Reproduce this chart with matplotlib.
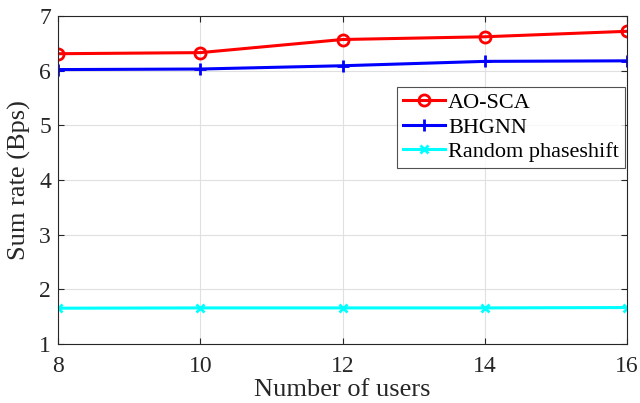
import matplotlib
matplotlib.use("Agg")
import matplotlib.pyplot as plt

users = [8, 10, 12, 14, 16]
ao_sca = [6.31, 6.33, 6.57, 6.62, 6.72]
bhgnn = [6.02, 6.03, 6.09, 6.17, 6.18]
random_ps = [1.655, 1.66, 1.66, 1.66, 1.667]

plt.rcParams['font.family'] = ['Liberation Serif', 'DejaVu Serif']
plt.rcParams['mathtext.fontset'] = 'stix'

fig = plt.figure(figsize=(6.4, 4.03), dpi=100)
ax = fig.add_axes([58/640, 1 - 344/403, (627-58)/640, (344-16)/403])

ax.plot(users, ao_sca, color='#ff0000', lw=2.2, marker='o', ms=8, mfc='none', mew=2.0, label='AO-SCA')
ax.plot(users, bhgnn, color='#0000ff', lw=2.2, marker='+', ms=9, mew=2.0, label='BHGNN')
ax.plot(users, random_ps, color='#00ffff', lw=2.2, marker='x', ms=6, mew=2.0, label='Random phaseshift')

ax.set_xlim(8, 16)
ax.set_ylim(1, 7)
ax.set_xticks(users)
ax.set_yticks(range(1, 8))
ax.grid(True, color='#e0e0e0', lw=0.8)
ax.set_axisbelow(True)
for s in ax.spines.values():
    s.set_color('#262626')
    s.set_linewidth(0.8)
ax.tick_params(direction='in', length=4, colors='#262626', labelsize=17, pad=5, top=True, right=True)
ax.tick_params(axis='x', pad=9)
ax.set_xlabel('Number of users', fontsize=19, color='#262626', labelpad=1)
ax.set_ylabel('Sum rate (Bps)', fontsize=19, color='#262626', labelpad=6)

leg = ax.legend(loc='upper left', bbox_to_anchor=(0.596, 0.784), fontsize=16, frameon=True,
                fancybox=False, edgecolor='#262626', handlelength=1.9, handletextpad=0.15,
                borderpad=0.25, labelspacing=0.18, borderaxespad=0)
leg.get_frame().set_linewidth(0.8)

fig.savefig('out.png', dpi=100)
